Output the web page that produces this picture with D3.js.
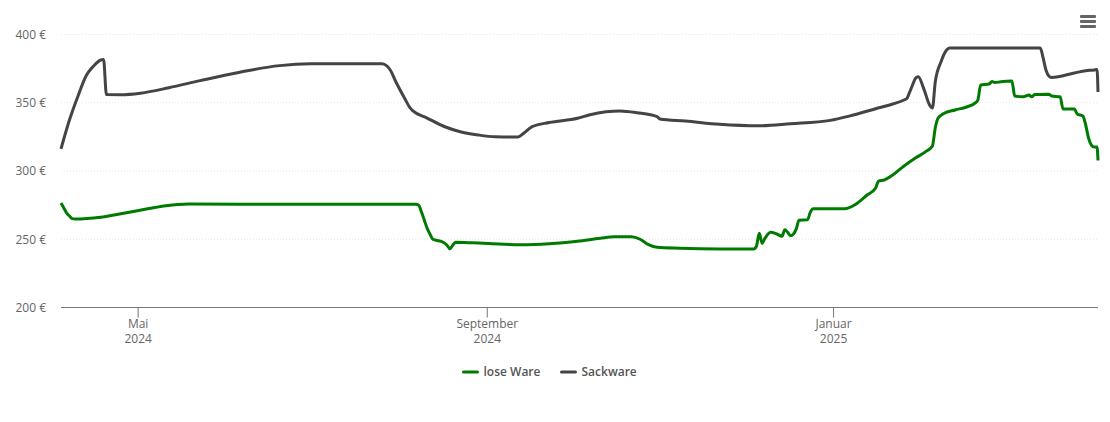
<!DOCTYPE html>
<html>
<head>
<meta charset="utf-8">
<script src="https://cdn.jsdelivr.net/npm/d3@7"></script>
<style>
  html, body { margin: 0; padding: 0; background: #fff; }
  svg { display: block; font-family: "Open Sans", sans-serif; }
  .tick text { fill: #666; font-size: 12px; font-family: "Open Sans", sans-serif; }
</style>
</head>
<body>
<div id="chart"></div>
<script>
var loseDates = ["2024-04-04","2024-04-05","2024-04-06","2024-04-07","2024-04-08","2024-04-09","2024-04-18","2024-04-29","2024-05-05","2024-05-11","2024-05-19","2024-06-10","2024-07-15","2024-08-07","2024-08-08","2024-08-09","2024-08-10","2024-08-11","2024-08-12","2024-08-13","2024-08-15","2024-08-16","2024-08-18","2024-08-19","2024-08-20","2024-08-21","2024-08-27","2024-09-03","2024-09-13","2024-09-23","2024-10-03","2024-10-11","2024-10-16","2024-10-22","2024-10-25","2024-10-28","2024-10-31","2024-11-08","2024-11-22","2024-12-04","2024-12-05","2024-12-06","2024-12-07","2024-12-08","2024-12-10","2024-12-12","2024-12-14","2024-12-15","2024-12-16","2024-12-17","2024-12-18","2024-12-19","2024-12-20","2024-12-23","2024-12-24","2024-12-25","2025-01-05","2025-01-09","2025-01-13","2025-01-16","2025-01-17","2025-01-19","2025-01-22","2025-01-26","2025-01-30","2025-02-03","2025-02-05","2025-02-06","2025-02-07","2025-02-09","2025-02-13","2025-02-17","2025-02-20","2025-02-21","2025-02-22","2025-02-25","2025-02-26","2025-02-27","2025-03-01","2025-03-05","2025-03-06","2025-03-09","2025-03-11","2025-03-12","2025-03-13","2025-03-18","2025-03-19","2025-03-22","2025-03-23","2025-03-27","2025-03-28","2025-03-30","2025-03-31","2025-04-01","2025-04-02","2025-04-03","2025-04-04","2025-04-04T08:00Z"];
var loseValues = [276.6,272.9,269.2,267,265.1,264.8,266.1,270.2,272.5,274.6,275.8,275.7,275.7,275.7,275,269.9,264,258,253.7,250,248.9,248.5,245.6,243,245.6,247.8,247.4,246.7,246,246.7,248.5,250.7,251.8,251.8,250,246,244.1,243.4,242.9,242.9,244.9,254.4,247,250.7,255.1,254,252.2,257,255.1,252.6,253.7,257.4,264,264.3,269.9,272.4,272.4,275.7,282.4,287.5,292.6,293.4,297,303.7,309.5,314.7,318.3,331.5,338.8,342.1,344.7,346.9,349.8,352,363,363.7,365.6,364.8,365.4,365.9,354.9,354.4,355.7,354.4,356,356.2,354.9,354.4,345.4,345.4,341.8,340.3,333.7,324.2,319,317.6,317.6,307.7];

var sackDates = ["2024-04-04","2024-04-07","2024-04-10","2024-04-13","2024-04-15","2024-04-16","2024-04-18","2024-04-19","2024-04-20","2024-04-25","2024-05-02","2024-05-12","2024-05-23","2024-06-06","2024-06-20","2024-07-01","2024-07-13","2024-07-26","2024-07-29","2024-07-31","2024-08-01","2024-08-03","2024-08-05","2024-08-06","2024-08-11","2024-08-17","2024-08-23","2024-08-29","2024-09-04","2024-09-12","2024-09-14","2024-09-17","2024-09-23","2024-10-03","2024-10-07","2024-10-13","2024-10-18","2024-10-24","2024-10-31","2024-11-01","2024-11-10","2024-11-22","2024-12-06","2024-12-17","2024-12-31","2025-01-07","2025-01-16","2025-01-22","2025-01-26","2025-01-27","2025-01-28","2025-01-29","2025-01-30","2025-01-31","2025-02-02","2025-02-04","2025-02-05","2025-02-06","2025-02-08","2025-02-10","2025-02-11","2025-03-01","2025-03-15","2025-03-16","2025-03-17","2025-03-18","2025-03-19","2025-03-27","2025-03-31","2025-04-03","2025-04-04","2025-04-04T08:00Z"];
var sackValues = [316.2,337.5,355,370.3,375.8,378,381.3,381.6,356,355.9,357,361,366.2,372.4,377.2,378.5,378.5,378.5,374,365.2,361.2,353.5,346.2,344,338.8,332.6,328.6,326.4,325.1,324.9,327.6,332.5,335.5,338.6,341,343.4,344,342.7,339.8,338.1,336.6,334.2,333.1,334.6,337.1,340.4,345.6,349.1,352,353.1,357.9,363,367.8,369,360,348.4,346.2,365.2,379.9,388.6,390.1,390.1,390.1,382.8,374,369.6,368.5,371.8,373.5,374,374.4,357.9];

var yTicks = [200, 250, 300, 350, 400];
var monthTicks = ["2024-05-01", "2024-09-01", "2025-01-01"];
var monthLabels = ["Mai", "September", "Januar"];
var yearLabels = ["2024", "2024", "2025"];
var seriesNames = ["lose Ware", "Sackware"];
var seriesColors = ["#007a00", "#434348"];

var width = 1110, height = 422;
var margin = { left: 61, right: 12, top: 34.5, bottom: 114.5 };

var svg = d3.select("#chart").append("svg")
  .attr("width", width)
  .attr("height", height);

var x = d3.scaleUtc()
  .domain([new Date("2024-04-04"), new Date("2025-04-04T08:00Z")])
  .range([margin.left, width - margin.right]);

var y = d3.scaleLinear()
  .domain([200, 400])
  .range([height - margin.bottom, margin.top]);

// horizontal grid
svg.append("g").selectAll("line")
  .data(yTicks.slice(1))
  .enter().append("line")
  .attr("x1", margin.left)
  .attr("x2", width - margin.right)
  .attr("y1", function(d) { return y(d); })
  .attr("y2", function(d) { return y(d); })
  .attr("stroke", "#e6e6e6")
  .attr("stroke-dasharray", "1,2");

// y axis, labels only
var yAxis = svg.append("g")
  .attr("transform", "translate(" + margin.left + ",0)")
  .call(d3.axisLeft(y).tickValues(yTicks).tickSize(0).tickPadding(15)
    .tickFormat(function(d) { return d + " €"; }));
yAxis.select(".domain").remove();

// x axis
var xAxis = svg.append("g")
  .attr("transform", "translate(0," + y(200) + ")")
  .call(d3.axisBottom(x)
    .tickValues(monthTicks.map(function(d) { return new Date(d); }))
    .tickSize(10)
    .tickFormat(""));
xAxis.select(".domain").attr("stroke", "#777").attr("d", "M" + margin.left + ",0H" + (width - margin.right));
xAxis.selectAll(".tick line").attr("stroke", "#777");

xAxis.selectAll(".tick text").each(function(d, i) {
  var t = d3.select(this).text(null).attr("y", 20).attr("dy", 0);
  t.append("tspan").attr("x", 0).text(monthLabels[i]);
  t.append("tspan").attr("x", 0).attr("dy", 15).text(yearLabels[i]);
});

// lines
var line = d3.line()
  .x(function(d) { return x(d.date); })
  .y(function(d) { return y(d.value); })
  .curve(d3.curveMonotoneX);

function toPoints(dates, values) {
  return dates.map(function(d, i) { return { date: new Date(d), value: values[i] }; });
}

var series = [toPoints(loseDates, loseValues), toPoints(sackDates, sackValues)];

svg.selectAll(".series")
  .data(series)
  .enter().append("path")
  .attr("class", "series")
  .attr("fill", "none")
  .attr("stroke", function(d, i) { return seriesColors[i]; })
  .attr("stroke-width", 3)
  .attr("stroke-linejoin", "round")
  .attr("d", line);

// legend
var legendX = [463.5, 561.5];
var legend = svg.selectAll(".legend-item")
  .data(seriesNames)
  .enter().append("g")
  .attr("class", "legend-item")
  .attr("transform", function(d, i) { return "translate(" + legendX[i] + ",372)"; });

legend.append("line")
  .attr("x1", 0).attr("x2", 14)
  .attr("stroke", function(d, i) { return seriesColors[i]; })
  .attr("stroke-width", 3)
  .attr("stroke-linecap", "round");

legend.append("text")
  .attr("x", 20)
  .attr("y", 4)
  .attr("fill", "#555")
  .attr("font-size", 12)
  .attr("font-weight", 600)
  .text(function(d) { return d; });

// menu icon
svg.append("g").selectAll("rect")
  .data([0, 1, 2])
  .enter().append("rect")
  .attr("x", 1080)
  .attr("y", function(d) { return 15 + d * 5; })
  .attr("width", 16)
  .attr("height", 3)
  .attr("rx", 1)
  .attr("fill", "#666");
</script>
</body>
</html>
